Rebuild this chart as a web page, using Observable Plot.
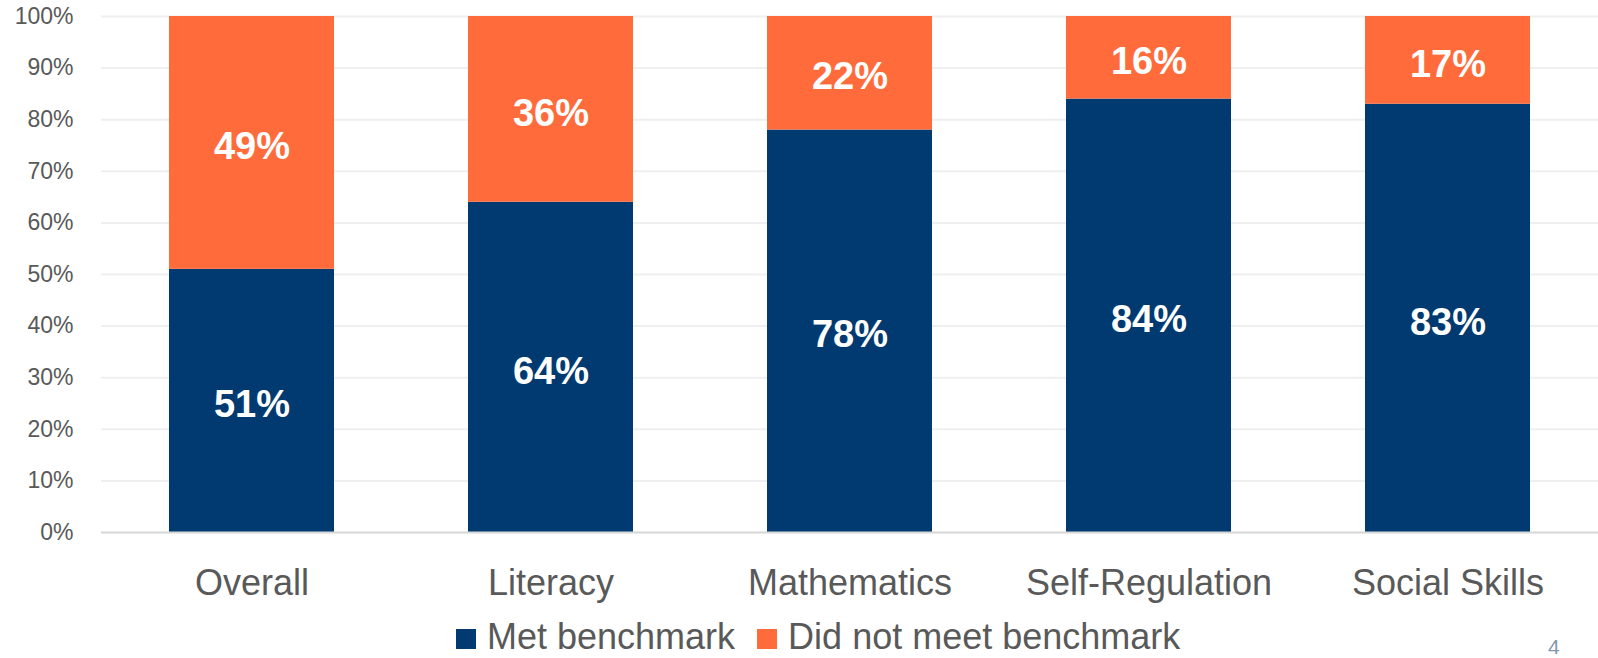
<!DOCTYPE html>
<html>
<head>
<meta charset="utf-8">
<script src="https://cdn.jsdelivr.net/npm/d3@7"></script>
<script src="https://cdn.jsdelivr.net/npm/@observablehq/plot@0.6"></script>
<style>
  html, body { margin: 0; padding: 0; background: #ffffff; }
  #wrap { position: relative; width: 1598px; height: 658px; overflow: hidden; font-family: "Liberation Sans", Arial, sans-serif; }
  #legend { position: absolute; left: 456px; top: 622px; height: 30px; line-height: 30px; display: flex; align-items: center; font-size: 36px; color: #595959; white-space: nowrap; }
  .sw { display: inline-block; width: 20px; height: 20px; margin-right: 11px; margin-top: 4px; }
  .item { display: flex; align-items: center; margin-right: 22px; line-height: 30px; }
  #page { position: absolute; left: 1548px; top: 636px; font-size: 21px; line-height: 22px; color: #8497B0; }
</style>
</head>
<body>
<div id="wrap">
  <div id="chart"></div>
  <div id="legend"></div>
  <div id="page">4</div>
</div>
<script>
const categories = ["Overall", "Literacy", "Mathematics", "Self-Regulation", "Social Skills"];
const metBenchmark = [51, 64, 78, 84, 83];
const didNotMeet = [49, 36, 22, 16, 17];
const seriesNames = ["Met benchmark", "Did not meet benchmark"];
const seriesColors = ["#003A70", "#FF6B3A"];
const yTicks = [0, 10, 20, 30, 40, 50, 60, 70, 80, 90, 100];

const rows = [];
categories.forEach((c, i) => {
  rows.push({category: c, series: seriesNames[0], value: metBenchmark[i]});
  rows.push({category: c, series: seriesNames[1], value: didNotMeet[i]});
});

const chart = Plot.plot({
  width: 1598,
  height: 610,
  marginTop: 16,
  marginBottom: 78,
  marginLeft: 101,
  marginRight: 0,
  style: {fontFamily: "'Liberation Sans', Arial, sans-serif", background: "white"},
  x: {domain: categories, paddingInner: 0.447, paddingOuter: 0.2235, label: null},
  y: {domain: [0, 100], label: null},
  color: {domain: seriesNames, range: seriesColors},
  marks: [
    Plot.gridY(yTicks, {stroke: "#efefef", strokeOpacity: 1, strokeWidth: 2}),
    Plot.barY(rows, Plot.stackY({x: "category", y: "value", fill: "series", order: null})),
    Plot.ruleY([0], {stroke: "#d9d9d9", strokeWidth: 2}),
    Plot.text(rows, Plot.stackY({
      x: "category", y: "value", order: null,
      text: d => d.value + "%",
      fill: "white", fontSize: 38, fontWeight: "bold", dy: 4
    })),
    Plot.axisX({tickSize: 0, tickPadding: 37, fontSize: 36, color: "#595959", label: null}),
    Plot.axisY(yTicks, {tickSize: 0, tickPadding: 28, fontSize: 23, color: "#595959", tickFormat: d => d + "%", label: null})
  ]
});
document.getElementById("chart").appendChild(chart);

const legend = document.getElementById("legend");
seriesNames.forEach((name, i) => {
  const item = document.createElement("span");
  item.className = "item";
  const sw = document.createElement("span");
  sw.className = "sw";
  sw.style.background = seriesColors[i];
  item.appendChild(sw);
  item.appendChild(document.createTextNode(name));
  legend.appendChild(item);
});
</script>
</body>
</html>
